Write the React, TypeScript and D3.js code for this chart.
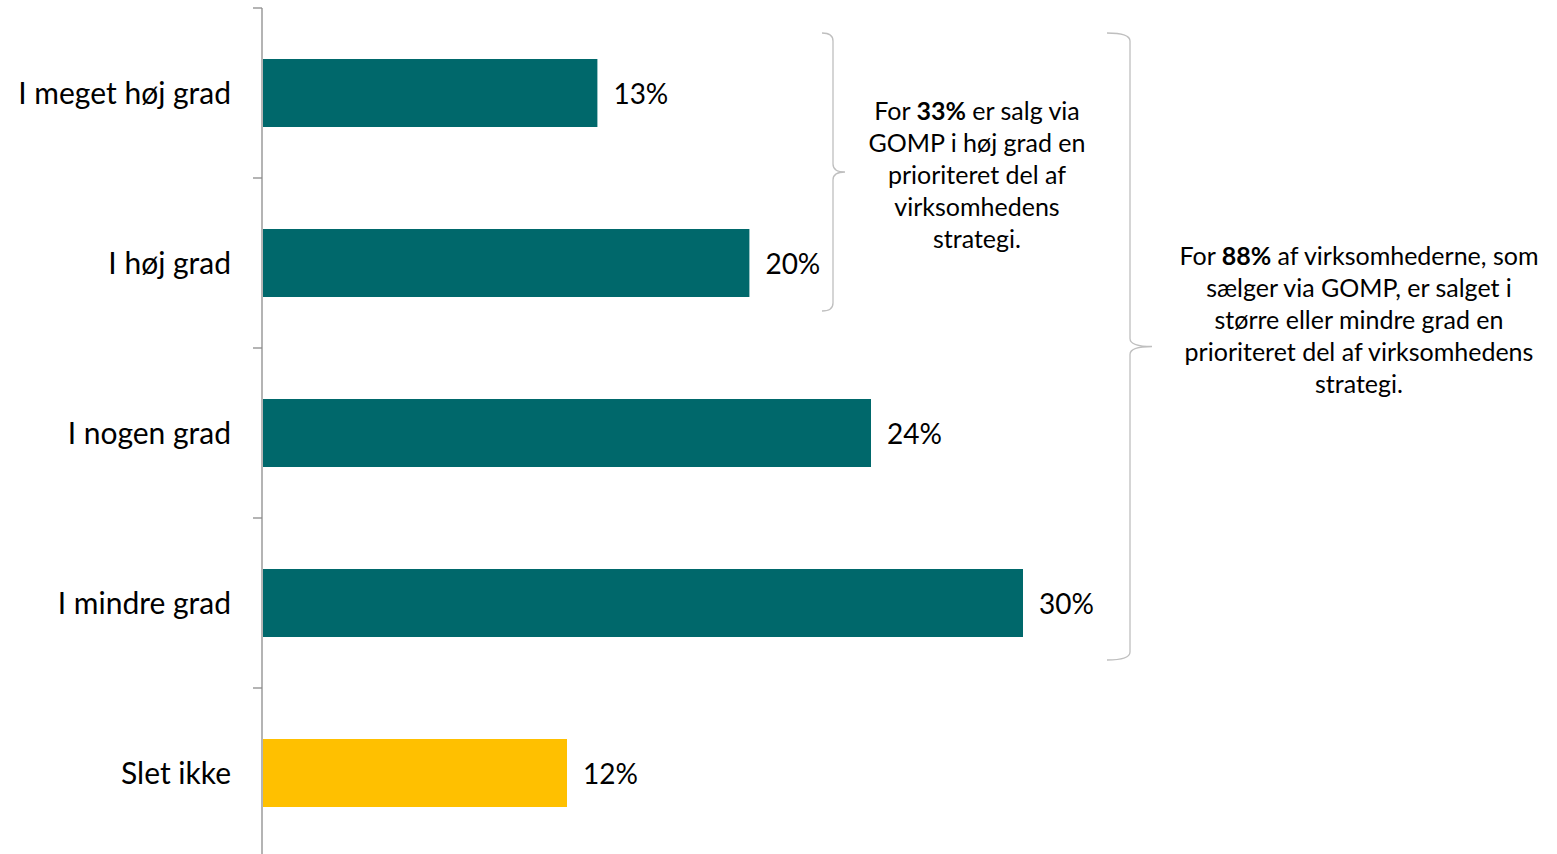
import React from "react";
import * as d3 from "d3";

const categories = ["I meget høj grad", "I høj grad", "I nogen grad", "I mindre grad", "Slet ikke"];
const values = [13.2, 19.2, 24.0, 30.0, 12.0];
const valueLabels = ["13%", "20%", "24%", "30%", "12%"];
const barColors = ["#00686B", "#00686B", "#00686B", "#00686B", "#FFC000"];

const note1 = [
  [{ t: "For ", b: false }, { t: "33%", b: true }, { t: " er salg via", b: false }],
  [{ t: "GOMP i høj grad en", b: false }],
  [{ t: "prioriteret del af", b: false }],
  [{ t: "virksomhedens", b: false }],
  [{ t: "strategi.", b: false }],
];
const note2 = [
  [{ t: "For ", b: false }, { t: "88%", b: true }, { t: " af virksomhederne, som", b: false }],
  [{ t: "sælger via GOMP, er salget i", b: false }],
  [{ t: "større eller mindre grad en", b: false }],
  [{ t: "prioriteret del af virksomhedens", b: false }],
  [{ t: "strategi.", b: false }],
];

const W = 1557;
const H = 854;
const FONT = "Lato, 'Open Sans', sans-serif";

function bracePath(xEnd: number, xLine: number, xNub: number, y0: number, y1: number, r: number) {
  const ym = (y0 + y1) / 2;
  return [
    `M${xEnd},${y0}`,
    `Q${xLine},${y0} ${xLine},${y0 + r}`,
    `L${xLine},${ym - r}`,
    `Q${xLine},${ym} ${xNub},${ym}`,
    `Q${xLine},${ym} ${xLine},${ym + r}`,
    `L${xLine},${y1 - r}`,
    `Q${xLine},${y1} ${xEnd},${y1}`,
  ].join(" ");
}

export default function App() {
  const y = d3.scaleBand<string>().domain(categories).range([8, 858]).paddingInner(0.6).paddingOuter(0.3);
  const x = d3.scaleLinear().domain([0, 30]).range([263, 1023]);
  const step = y.step();
  const ticks = d3.range(categories.length + 1).map((i) => 8 + i * step);

  const yOf = (c: string) => y(c) as number;

  return (
    <svg width={W} height={H} style={{ position: "absolute", left: 0, top: 0, background: "#fff" }} fontFamily={FONT}>
      <line x1={262} x2={262} y1={8} y2={H} stroke="#8c8c8c" strokeWidth={1.3} />
      {ticks.map((t, i) => (
        <line key={i} x1={253} x2={262} y1={t} y2={t} stroke="#8c8c8c" strokeWidth={1.3} />
      ))}
      {categories.map((c, i) => (
        <g key={c}>
          <rect x={x(0)} y={yOf(c)} width={x(values[i]) - x(0)} height={y.bandwidth()} fill={barColors[i]} />
          <text x={231} y={yOf(c) + y.bandwidth() / 2 + 10.5} textAnchor="end" fontSize={30} fill="#000">
            {c}
          </text>
          <text x={x(values[i]) + 16} y={yOf(c) + y.bandwidth() / 2 + 11} fontSize={28} fill="#000">
            {valueLabels[i]}
          </text>
        </g>
      ))}
      <path d={bracePath(822, 833, 845, 33, 311, 8)} fill="none" stroke="#bfbfbf" strokeWidth={1.3} />
      <path d={bracePath(1107, 1130, 1152, 33, 660, 8)} fill="none" stroke="#bfbfbf" strokeWidth={1.3} />
      {note1.map((line, i) => (
        <text key={i} x={977} y={120 + i * 32} textAnchor="middle" fontSize={25} fill="#000">
          {line.map((s, j) => (
            <tspan key={j} fontWeight={s.b ? "bold" : "normal"}>{s.t}</tspan>
          ))}
        </text>
      ))}
      {note2.map((line, i) => (
        <text key={i} x={1359} y={265 + i * 32} textAnchor="middle" fontSize={25} fill="#000">
          {line.map((s, j) => (
            <tspan key={j} fontWeight={s.b ? "bold" : "normal"}>{s.t}</tspan>
          ))}
        </text>
      ))}
    </svg>
  );
}
